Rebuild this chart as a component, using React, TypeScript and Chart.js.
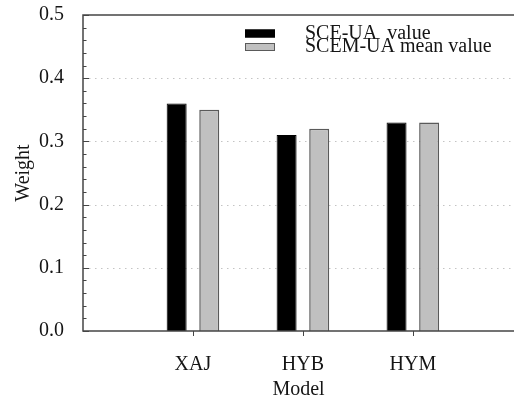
import React, { useEffect, useRef } from 'react';
import { Chart, registerables } from 'chart.js';
Chart.register(...registerables);

const categories = ['XAJ', 'HYB', 'HYM'];
const categoryPositions = [1, 2, 3];
const sceuaValues = [0.36, 0.31, 0.33];
const scemuaMeanValues = [0.35, 0.32, 0.33];
const seriesLabels = ['SCE-UA  value', 'SCEM-UA mean value'];
const yTickLabels = ['0.0', '0.1', '0.2', '0.3', '0.4', '0.5'];
const yMin = 0;
const yMax = 0.5;
const yMajorStep = 0.1;
const yMinorStep = 0.02;
const xMin = 0;
const xMax = 3.92;

const FONT = '"Liberation Serif", "Times New Roman", serif';
const AXIS_COLOR = '#454545';
const TEXT_COLOR = '#151515';

const decorPlugin = {
  id: 'decor',
  beforeDatasetsDraw(chart: any) {
    const { ctx, chartArea: a } = chart;
    const y = chart.scales.y;
    ctx.save();
    ctx.strokeStyle = '#c4c4c4';
    ctx.lineWidth = 1;
    ctx.setLineDash([1.5, 4.5]);
    y.ticks.forEach((t: any) => {
      if (t.value <= y.min + 1e-9 || t.value >= y.max - 1e-9) return;
      const py = Math.round(y.getPixelForValue(t.value)) + 0.5;
      ctx.beginPath();
      ctx.moveTo(a.left + 6, py);
      ctx.lineTo(a.right, py);
      ctx.stroke();
    });
    ctx.restore();
  },
  afterDatasetsDraw(chart: any) {
    const { ctx, chartArea: a } = chart;
    const y = chart.scales.y;
    const x = chart.scales.x;
    ctx.save();
    // frame: left, top, bottom (right edge lies beyond the picture)
    ctx.strokeStyle = AXIS_COLOR;
    ctx.lineWidth = 1.5;
    ctx.beginPath();
    ctx.moveTo(a.right + 2, a.top);
    ctx.lineTo(a.left, a.top);
    ctx.lineTo(a.left, a.bottom);
    ctx.lineTo(a.right + 2, a.bottom);
    ctx.stroke();
    // y ticks (inward)
    ctx.lineWidth = 1;
    const nMinor = Math.round((y.max - y.min) / yMinorStep);
    const perMajor = Math.round(yMajorStep / yMinorStep);
    for (let i = 0; i <= nMinor; i++) {
      const v = y.min + i * yMinorStep;
      const py = Math.round(y.getPixelForValue(v)) + 0.5;
      const len = i % perMajor === 0 ? 6 : 3.5;
      ctx.beginPath();
      ctx.moveTo(a.left, py);
      ctx.lineTo(a.left + len, py);
      ctx.stroke();
    }
    // x ticks (outward)
    categoryPositions.forEach((p) => {
      const px = Math.round(x.getPixelForValue(p)) + 0.5;
      ctx.beginPath();
      ctx.moveTo(px, a.bottom);
      ctx.lineTo(px, a.bottom + 5);
      ctx.stroke();
    });
    // legend
    const boxX = 245;
    const boxW = 30;
    const textX = 305;
    const rowY = [33.5, 47];
    ctx.font = `20px ${FONT}`;
    ctx.textBaseline = 'middle';
    ctx.textAlign = 'left';
    chart.data.datasets.forEach((ds: any, i: number) => {
      const cy = rowY[i];
      ctx.fillStyle = ds.backgroundColor;
      ctx.fillRect(boxX, cy - 4, boxW, 8);
      ctx.strokeStyle = ds.borderColor;
      ctx.lineWidth = 1;
      ctx.strokeRect(boxX + 0.5, cy - 3.5, boxW - 1, 7);
      ctx.fillStyle = TEXT_COLOR;
      ctx.fillText(ds.label, textX, cy);
    });
    ctx.restore();
  },
};

export default function App() {
  const ref = useRef<HTMLCanvasElement | null>(null);
  useEffect(() => {
    if (!ref.current) return;
    document.body.style.overflow = 'hidden';
    const chart = new Chart(ref.current, {
      type: 'bar',
      data: {
        datasets: [
          {
            label: seriesLabels[0],
            data: categoryPositions.map((p, i) => ({ x: p, y: sceuaValues[i] })),
            backgroundColor: '#000000',
            borderColor: '#000000',
            borderWidth: 1,
            categoryPercentage: 0.593,
            barPercentage: 0.613,
          },
          {
            label: seriesLabels[1],
            data: categoryPositions.map((p, i) => ({ x: p, y: scemuaMeanValues[i] })),
            backgroundColor: '#c0c0c0',
            borderColor: '#5a5a5a',
            borderWidth: 1.5,
            categoryPercentage: 0.593,
            barPercentage: 0.613,
          },
        ],
      },
      options: {
        animation: false,
        responsive: false,
        devicePixelRatio: 1,
        layout: { padding: { left: 0, top: 15, right: 0, bottom: 0 } },
        plugins: { legend: { display: false }, tooltip: { enabled: false } },
        scales: {
          x: {
            type: 'linear',
            min: xMin,
            max: xMax,
            offset: false,
            grid: { display: false, offset: false },
            border: { display: false },
            ticks: {
              stepSize: 1,
              includeBounds: false,
              font: { family: FONT, size: 20 },
              color: TEXT_COLOR,
              padding: 14,
              maxRotation: 0,
              autoSkip: false,
              callback: (v: any) => {
                const i = categoryPositions.indexOf(v);
                return i >= 0 ? categories[i] : '';
              },
            },
            title: {
              display: true,
              text: 'Model',
              font: { family: FONT, size: 20, lineHeight: 1.2 },
              color: TEXT_COLOR,
              padding: { top: 0, bottom: 1 },
            },
            afterFit: (s: any) => {
              s.height = 72;
              s.paddingLeft = 0;
              s.paddingRight = 0;
            },
          },
          y: {
            min: yMin,
            max: yMax,
            grid: { display: false },
            border: { display: false },
            ticks: {
              stepSize: yMajorStep,
              font: { family: FONT, size: 20 },
              color: TEXT_COLOR,
              padding: 11,
              callback: (_v: any, i: number) => yTickLabels[i],
            },
            title: {
              display: true,
              text: 'Weight',
              font: { family: FONT, size: 20, lineHeight: 1.2 },
              color: TEXT_COLOR,
              padding: { top: 12, bottom: 0 },
            },
            afterFit: (s: any) => {
              s.width = 83;
              s.paddingTop = 0;
              s.paddingBottom = 0;
            },
          },
        },
      },
      plugins: [decorPlugin],
    });
    return () => chart.destroy();
  }, []);
  return (
    <div style={{ position: 'absolute', left: 0, top: 0, width: 514, height: 403, overflow: 'hidden', background: '#fff' }}>
      <canvas ref={ref} width={514} height={403} style={{ width: 514, height: 403, display: 'block' }} />
    </div>
  );
}
